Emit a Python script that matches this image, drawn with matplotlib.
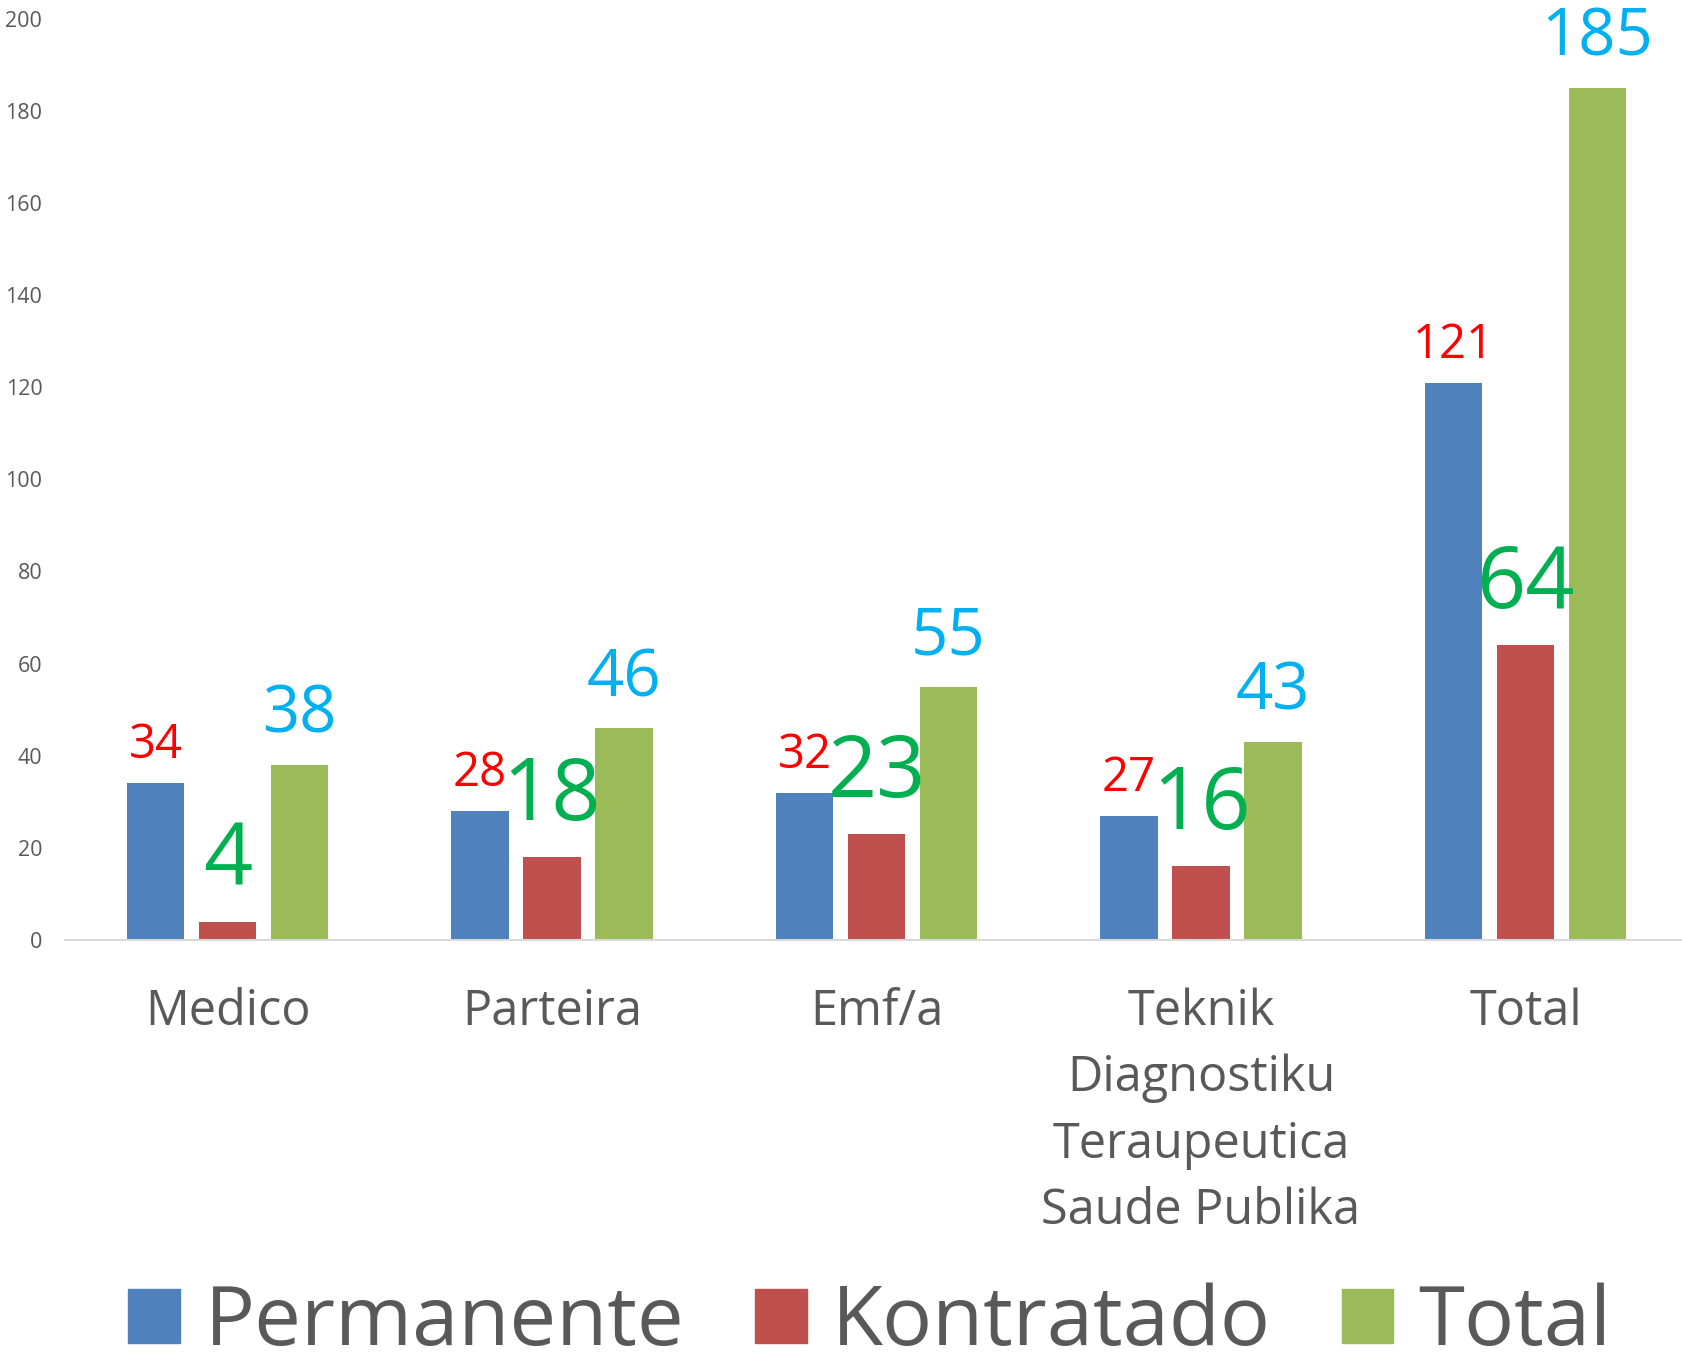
import matplotlib.pyplot as plt
from matplotlib.patches import Patch
import numpy as np

#* Datos
categorias = ["Medico", "Parteira", "Emf/a", "Teknik\nDiagnostiku\nTeraupeutica\nSaude Publika", "Total"]
permanente = [34, 28, 32, 27, 121]
kontratado = [4, 18, 23, 16, 64]
total = [38, 46, 55, 43, 185]
series = ["Permanente", "Kontratado", "Total"]

#* Estilos
colores_barra = ["#4F81BD", "#C0504D", "#9BBB59"]
colores_texto = ["#FF0000", "#00B050", "#00B0F0"]
tam_texto = [34, 62, 47]
desplaz = [18, 26.5, 23]  # puntos sobre la barra
gris = "#595959"

plt.rcParams['font.family'] = ['Open Sans', 'DejaVu Sans']

fig = plt.figure(figsize=(16.82, 13.54), dpi=100)
ax = fig.add_axes([65.25 / 1682, 414 / 1354, 1622.5 / 1682, 921.4 / 1354])

x = np.arange(len(categorias))
paso = 0.222
ancho = 0.176

for i, valores in enumerate([permanente, kontratado, total]):
    pos = x + (i - 1) * paso
    ax.bar(pos, valores, width=ancho, color=colores_barra[i], zorder=2)
    #? etiquetas de valor encima de cada barra
    for xp, v in zip(pos, valores):
        ax.annotate(str(v), (xp, v), xytext=(0, desplaz[i]), textcoords="offset points",
                    ha="center", va="baseline", fontsize=tam_texto[i], color=colores_texto[i])

ax.set_xlim(-0.5, 4.5)
ax.set_ylim(0, 200)
ax.set_yticks(range(0, 201, 20))
ax.set_xticks(x)
ax.set_xticklabels(categorias, fontsize=35, color=gris, linespacing=1.455)

ax.tick_params(axis="y", length=0, pad=16.5, labelsize=15.5, labelcolor=gris)
ax.tick_params(axis="x", length=0, pad=34)

for s in ["top", "right", "left"]:
    ax.spines[s].set_visible(False)
ax.spines["bottom"].set_color("#D9D9D9")
ax.spines["bottom"].set_linewidth(1.5)

#* Leyenda
handles = [Patch(color=c, label=s) for c, s in zip(colores_barra, series)]
leg = fig.legend(handles=handles, loc="center", bbox_to_anchor=(0.517, 0.022), ncol=3,
                 frameon=False, fontsize=60, handlelength=0.62, handleheight=0.62,
                 handletextpad=0.3, columnspacing=0.85, borderpad=0)
for t in leg.get_texts():
    t.set_color(gris)

plt.savefig("out.png", dpi=100)
